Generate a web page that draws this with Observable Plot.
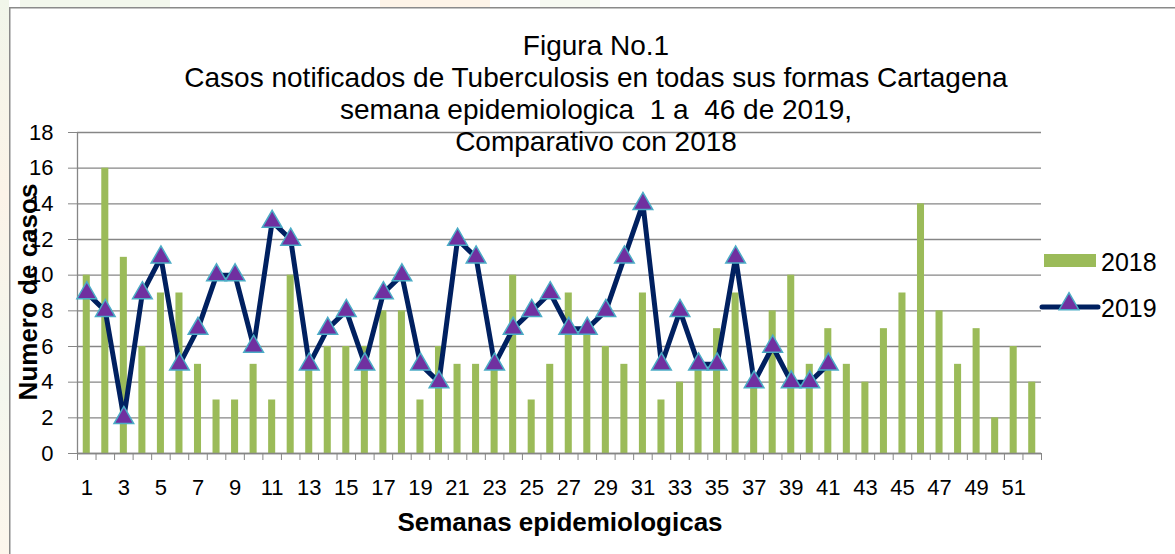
<!DOCTYPE html>
<html>
<head>
<meta charset="utf-8">
<script src="https://cdn.jsdelivr.net/npm/d3@7"></script>
<script src="https://cdn.jsdelivr.net/npm/@observablehq/plot@0.6"></script>
<style>
  html, body { margin: 0; padding: 0; background: #fff; }
  #wrap { position: relative; width: 1175px; height: 554px; overflow: hidden; background: #fff; }
  #wrap > svg { position: absolute; left: 0; top: 0; }
  #deco { position: absolute; left: 0; top: 0; }
</style>
</head>
<body>
<div id="wrap"></div>
<script>
// ---- Data ----
const weeks = [1,2,3,4,5,6,7,8,9,10,11,12,13,14,15,16,17,18,19,20,21,22,23,24,25,26,
               27,28,29,30,31,32,33,34,35,36,37,38,39,40,41,42,43,44,45,46,47,48,49,50,51,52];
const cases2018 = [10,16,11,6,9,9,5,3,3,5,3,10,5,6,6,6,8,8,3,6,5,5,5,10,3,5,
                   9,7,6,5,9,3,4,5,7,9,4,8,10,5,7,5,4,7,9,14,8,5,7,2,6,4];
const cases2019 = [9,8,2,9,11,5,7,10,10,6,13,12,5,7,8,5,9,10,5,4,12,11,5,7,8,9,
                   7,7,8,11,14,5,8,5,5,11,4,6,4,4,5];
const yTicks = [0,2,4,6,8,10,12,14,16,18];
const xTickLabels = [1,3,5,7,9,11,13,15,17,19,21,23,25,27,29,31,33,35,37,39,41,43,45,47,49,51];
const seriesNames = ["2018", "2019"];
const titleLines = [
  "Figura No.1",
  "Casos notificados de Tuberculosis en todas sus formas Cartagena",
  "semana epidemiologica  1 a  46 de 2019,",
  "Comparativo con 2018"
];
const xTitle = "Semanas epidemiologicas";
const yTitle = "Numero de casos";

// ---- Tables built from the arrays ----
const bars = weeks.map((w, i) => ({week: w, value: cases2018[i]}));
const line = cases2019.map((v, i) => ({week: weeks[i], value: v}));
const boundaries = [weeks[0] - 0.5, ...weeks.map(w => w + 0.5)];
const xDomain = [weeks[0] - 0.5, weeks[weeks.length - 1] + 0.5];

const GRID = "#868686";
const GREEN = "#9BBB59";
const NAVY = "#002060";
const PURPLE = "#7030A0";
const CYAN = "#4BACC6";
const FONT = "'Liberation Sans', Arial, sans-serif";
const MARKER_R = 7.3;

const chart = Plot.plot({
  width: 1175,
  height: 554,
  marginLeft: 77,
  marginRight: 134,
  marginTop: 132,
  marginBottom: 101,
  style: {fontFamily: FONT, fontSize: "22px", color: "#000", background: "transparent", overflow: "visible"},
  x: {type: "linear", domain: xDomain},
  y: {domain: [0, 18]},
  marks: [
    Plot.gridY(yTicks, {stroke: GRID, strokeOpacity: 1, strokeWidth: 1.3}),
    Plot.rectY(bars, {x1: d => d.week - 0.19, x2: d => d.week + 0.19, y: "value", fill: GREEN}),
    Plot.ruleY([0], {stroke: GRID, strokeWidth: 1.3}),
    Plot.ruleX([xDomain[0]], {stroke: GRID, strokeWidth: 1.3}),
    Plot.axisY(yTicks, {tickSize: 9, tickPadding: 15, stroke: GRID, fill: "#000", label: null, tickFormat: d => String(d)}),
    Plot.axisX(boundaries, {tickSize: 7, stroke: GRID, tickFormat: () => "", label: null}),
    Plot.axisX(xTickLabels, {tickSize: 0, tickPadding: 26, fill: "#000", label: null, tickFormat: d => String(d)}),
    Plot.line(line, {x: "week", y: "value", stroke: NAVY, strokeWidth: 5, strokeLinejoin: "miter"}),
    Plot.dot(line, {x: "week", y: "value", symbol: "triangle", r: MARKER_R, fill: PURPLE, stroke: CYAN, strokeWidth: 1.5})
  ]
});

const wrap = document.getElementById("wrap");

// background decoration + frame (behind the chart)
const NS = "http://www.w3.org/2000/svg";
const deco = document.createElementNS(NS, "svg");
deco.setAttribute("id", "deco");
deco.setAttribute("width", 1175);
deco.setAttribute("height", 554);
deco.innerHTML = `
  <defs>
    <linearGradient id="lg" x1="0" y1="0" x2="0" y2="1">
      <stop offset="0" stop-color="#f1f6ea"/>
      <stop offset="0.35" stop-color="#fcf3e8"/>
      <stop offset="0.7" stop-color="#f3f7ee"/>
      <stop offset="1" stop-color="#fdf6ec"/>
    </linearGradient>
  </defs>
  <rect x="0" y="0" width="9" height="554" fill="url(#lg)"/>
  <rect x="20" y="0" width="150" height="7" fill="#f2f7ec"/>
  <rect x="380" y="0" width="110" height="7" fill="#fdf3e7"/>
  <rect x="540" y="0" width="60" height="7" fill="#f6f9f1"/>
  <rect x="9.75" y="7.75" width="1200" height="600" fill="#fff" stroke="#8a8a8a" stroke-width="1.5"/>
`;
wrap.appendChild(deco);
wrap.appendChild(chart);

// overlay: title, axis titles, legend
const over = document.createElementNS(NS, "svg");
over.setAttribute("width", 1175);
over.setAttribute("height", 554);
over.style.position = "absolute";
over.style.left = "0";
over.style.top = "0";
over.setAttribute("font-family", FONT);
let html = "";
titleLines.forEach((t, i) => {
  html += `<text x="596" y="${55 + i * 32}" text-anchor="middle" font-size="28" fill="#000" xml:space="preserve">${t}</text>`;
});
html += `<text x="560" y="531" text-anchor="middle" font-size="26" font-weight="bold" fill="#000">${xTitle}</text>`;
html += `<text transform="translate(37,292) rotate(-90)" text-anchor="middle" font-size="26" font-weight="bold" fill="#000">${yTitle}</text>`;
// legend
html += `<rect x="1044" y="254" width="52" height="13" fill="${GREEN}"/>`;
html += `<text x="1101" y="270.5" font-size="25" fill="#000">${seriesNames[0]}</text>`;
html += `<line x1="1042" y1="307" x2="1098" y2="307" stroke="${NAVY}" stroke-width="5" stroke-linecap="round"/>`;
const tr = d3.symbol(d3.symbolTriangle, Math.PI * MARKER_R * MARKER_R)();
html += `<path d="${tr}" transform="translate(1069,304)" fill="${PURPLE}" stroke="${CYAN}" stroke-width="1.5"/>`;
html += `<text x="1101" y="316.5" font-size="25" fill="#000">${seriesNames[1]}</text>`;
over.innerHTML = html;
wrap.appendChild(over);
</script>
</body>
</html>
